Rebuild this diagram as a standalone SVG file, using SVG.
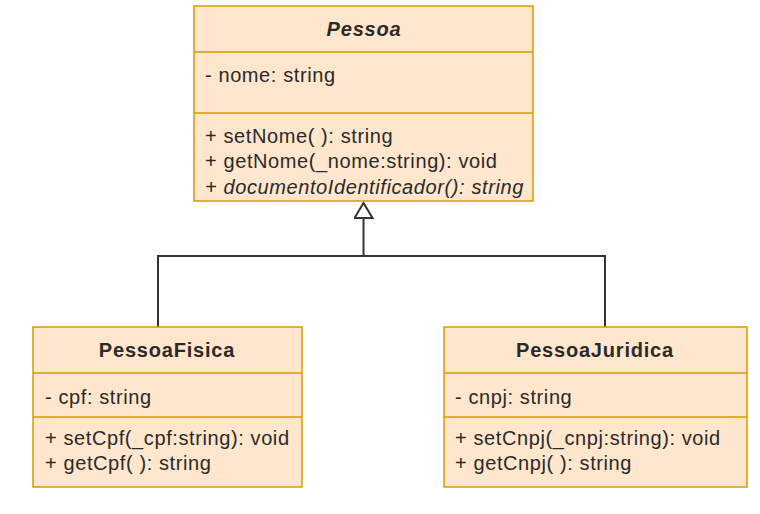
<svg xmlns="http://www.w3.org/2000/svg" width="760" height="514" viewBox="0 0 760 514">
<style>
.box{fill:#ffe6cc;stroke:#d79b00;stroke-width:1.5}
.div{stroke:#d79b00;stroke-width:1.5}
text{font-family:"Liberation Sans",Arial,sans-serif;font-size:20px;fill:#2a2a2a;letter-spacing:0.6px}
.t{font-weight:bold;text-anchor:middle;letter-spacing:0.8px}
.i{font-style:italic}
.edge{fill:none;stroke:#333;stroke-width:2}
</style>
<defs>
<marker id="tri" markerWidth="20" markerHeight="20" viewBox="0 0 20 20" refX="17" refY="10" orient="auto" markerUnits="userSpaceOnUse">
<path d="M2,1 L17,10 L2,19 Z" fill="#fff" stroke="#333" stroke-width="2"/>
</marker>
</defs>
<rect width="760" height="514" fill="#fff"/>
<g id="connectors">
<path class="edge" d="M158,327 V256 H605 V327"/>
<path class="edge" d="M363.5,256 V203" marker-end="url(#tri)"/>
</g>
<g id="Pessoa">
<rect class="box" x="194" y="6" width="339" height="195"/>
<line class="div" x1="194" y1="52" x2="533" y2="52"/>
<line class="div" x1="194" y1="113" x2="533" y2="113"/>
<text class="t i" x="364" y="36">Pessoa</text>
<text x="205" y="82">- nome: string</text>
<text x="205" y="143">+ setNome( ): string</text>
<text x="205" y="168">+ getNome(_nome:string): void</text>
<text class="i" x="205" y="194">+ documentoIdentificador(): string</text>
</g>
<g id="PessoaFisica">
<rect class="box" x="33" y="327" width="269" height="160"/>
<line class="div" x1="33" y1="373" x2="302" y2="373"/>
<line class="div" x1="33" y1="417" x2="302" y2="417"/>
<text class="t" x="167" y="357">PessoaFisica</text>
<text x="45" y="404">- cpf: string</text>
<text x="45" y="445">+ setCpf(_cpf:string): void</text>
<text x="45" y="470">+ getCpf( ): string</text>
</g>
<g id="PessoaJuridica">
<rect class="box" x="444" y="327" width="303" height="160"/>
<line class="div" x1="444" y1="373" x2="747" y2="373"/>
<line class="div" x1="444" y1="417" x2="747" y2="417"/>
<text class="t" x="595" y="357">PessoaJuridica</text>
<text x="455" y="404">- cnpj: string</text>
<text x="455" y="445">+ setCnpj(_cnpj:string): void</text>
<text x="455" y="470">+ getCnpj( ): string</text>
</g>
</svg>
